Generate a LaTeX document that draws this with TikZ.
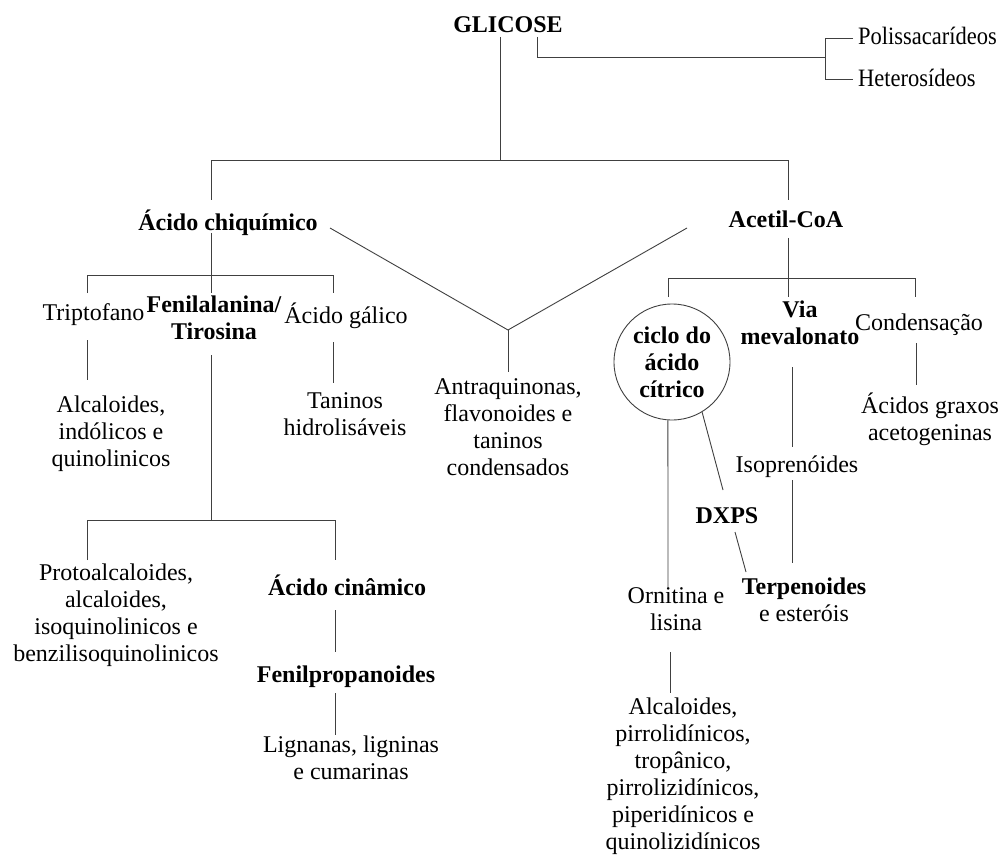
\documentclass[tikz,border=0pt]{standalone}
\usepackage{fontspec}
\usepackage{graphicx}
\setmainfont{Liberation Serif}
\newcommand\fs{\fontsize{24}{27}\selectfont}
\newcommand\fsb{\fontsize{24}{27}\selectfont\bfseries}
\begin{document}
\begin{tikzpicture}[x=1pt,y=-1pt,
  lbl/.style={inner sep=0pt, outer sep=0pt, align=center, font=\fs, anchor=north,
    execute at begin node={\rule{0pt}{24pt}}},
  bl/.style={lbl, font=\fsb},
  side/.style={inner sep=0pt, anchor=base west, font=\fontsize{25}{27}\selectfont},
  ln/.style={line width=0.9pt, draw=black!75}]
\useasboundingbox[fill=white] (0,0) rectangle (1005,864);

% ---- text nodes
\node[bl] (gli) at (508,9) {GLICOSE};
\node[side] (poli) at (858,45) {\scalebox{0.9}[1]{Polissacarídeos}};
\node[side] (hete) at (858,87) {\scalebox{0.9}[1]{Heterosídeos}};
\node[bl] (chiq) at (228,206) {Ácido chiquímico};
\node[bl] (acet) at (786,204) {Acetil-CoA};
\node[lbl] (trip) at (93.5,296) {Triptofano};
\node[bl] (feni) at (214,296) {Fenilalanina/\\Tirosina};
\node[lbl] (gali) at (346,299) {Ácido gálico};
\node[lbl] (alc1) at (111,396) {Alcaloides,\\indólicos e\\quinolinicos};
\node[lbl] (tani) at (345,393) {Taninos\\hidrolisáveis};
\node[lbl] (antr) at (508,379) {Antraquinonas,\\flavonoides e\\taninos\\condensados};
\node[circle, draw=black!75, line width=0.9pt, minimum size=116pt, inner sep=0pt,
      align=center, font=\fsb] (cicl) at (672,362) {ciclo do\\ácido\\cítrico};
\node[bl] (meva) at (800,301) {Via\\mevalonato};
\node[lbl] (cond) at (919,306) {Condensação};
\node[lbl] (acid) at (930,393) {Ácidos graxos\\acetogeninas};
\node[lbl] (isop) at (797,448) {Isoprenóides};
\node[bl] (dxps) at (727,499) {DXPS};
\node[lbl] (terp) at (804,578) {\textbf{Terpenoides}\\e esteróis};
\node[lbl] (orni) at (676,588) {Ornitina e\\lisina};
\node[lbl] (alc2) at (683,698) {Alcaloides,\\pirrolidínicos,\\tropânico,\\pirrolizidínicos,\\piperidínicos e\\quinolizidínicos};
\node[lbl] (prot) at (116,564) {Protoalcaloides,\\alcaloides,\\isoquinolinicos e\\benzilisoquinolinicos};
\node[bl] (cina) at (347,571) {Ácido cinâmico};
\node[bl] (fenp) at (346,658) {Fenilpropanoides};
\node[lbl] (lign) at (351,736) {Lignanas, ligninas\\e cumarinas};

% ---- junction coordinates
\coordinate (jtop) at (500,160);
\coordinate (jv) at (508,330);

% ---- connectors
\draw[ln] (500,37) -- (jtop);
\draw[ln] (537,37) -- (537,57) -- (825,57);
\draw[ln] (853,38) -- (825,38) -- (825,79) -- (853,79);
\draw[ln] (211,200) -- (211,160) -- (788,160) -- (788,200);

\draw[ln] (211,233) -- (211,293);
\draw[ln] (87,293) -- (87,275) -- (333,275) -- (333,293);
\draw[ln] (330,228) -- (jv) -- (687,228);
\draw[ln] (jv) -- (508,372);
\draw[ln] (87,340) -- (87,380);
\draw[ln] (211,355) -- (211,520);
\draw[ln] (333,342) -- (333,383);
\draw[ln] (87,560) -- (87,520) -- (335,520) -- (335,560);
\draw[ln] (335,610) -- (335,652);
\draw[ln] (335,693) -- (335,735);

\draw[ln] (788,238) -- (788,297);
\draw[ln] (668,297) -- (668,278) -- (915,278) -- (915,297);
\draw[ln] (916,343) -- (916,385);
\draw[ln] (792,367) -- (792,447);
\draw[ln] (cicl.-59.5) -- (723,490);
\draw[ln] (cicl.-94) -- (668,587);
\draw[ln] (792,480) -- (792,563);
\draw[ln] (735,532) -- (746,572);
\draw[ln] (670,652) -- (670,693);
\end{tikzpicture}
\end{document}
